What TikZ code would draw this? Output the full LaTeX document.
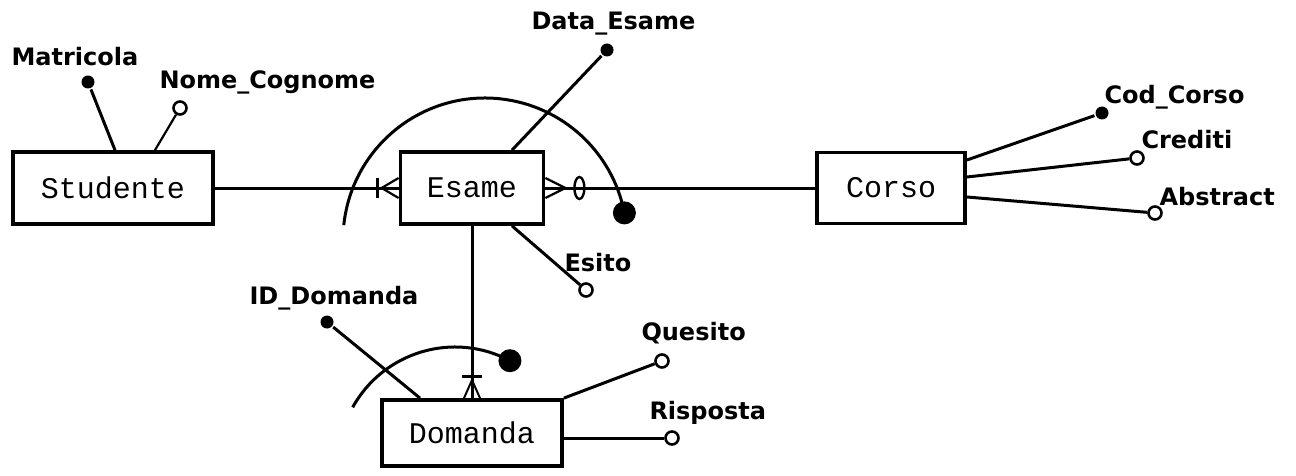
\documentclass[tikz,border=0pt]{standalone}
\usepackage{fontspec}
\setmainfont{DejaVu Sans}
\setmonofont{Liberation Mono}
\usepackage{tikz}
\usetikzlibrary{shapes,backgrounds}
\tikzset{
  ent/.style={ draw, rectangle, line width=1.9pt, inner sep=0pt, font=\fontsize{15}{17}\selectfont\ttfamily }
}
\tikzset{
  keyattr/.style={ circle, fill=black, inner sep=0pt, minimum size=6.5pt }
}
\tikzset{
  optattr/.style={ draw, circle, fill=white, line width=1.3pt, inner sep=0pt, minimum size=6.5pt }
}
\tikzset{
  attrname/.style={ anchor=west, inner sep=0pt, font=\fontsize{12}{14}\selectfont\bfseries }
}
\tikzset{
  bigdot/.style={ circle, fill=black, inner sep=0pt, minimum size=11.5pt }
}

\begin{document}
\begin{tikzpicture}[x=0.5pt, y=-0.5pt, line width=1.5pt]
      \useasboundingbox (0,0) rectangle (1296,476);

      % entities
      \node[ent, minimum width=100pt, minimum height=36pt] (stud) at (113,188) {Studente};
      \node[ent, minimum width=71.5pt, minimum height=36pt] (esame) at (472,188) {Esame};
      \node[ent, minimum width=74pt, minimum height=35.5pt] (corso) at (891,188) {Corso};
      \node[ent, minimum width=90pt, minimum height=33pt] (dom) at (472,433) {Domanda};

      % relationships
      \draw (stud) -- (esame);
      \draw (esame) -- (corso);
      \draw (esame) -- (dom);

      % crow's feet
      \draw ([xshift=-10.5pt,yshift=5pt]esame.west) -- ([xshift=-10.5pt,yshift=-5pt]esame.west);
      \draw[line width=1.1pt] ([yshift=5pt]esame.west) -- ([xshift=-8.5pt]esame.west) -- ([yshift=-5pt]esame.west);
      \draw[line width=1.1pt] ([yshift=5pt]esame.east) -- ([xshift=10pt]esame.east) -- ([yshift=-5pt]esame.east);
      \draw[line width=1.2pt] ([xshift=17pt]esame.east) ellipse [x radius=2.5pt, y radius=5.5pt];
      \draw ([xshift=-5pt,yshift=11pt]dom.north) -- ([xshift=5pt,yshift=11pt]dom.north);
      \draw[line width=1pt] ([xshift=-4pt]dom.north) -- ([yshift=9pt]dom.north) -- ([xshift=4pt]dom.north);

      % identifier arcs
      \draw (485,240) ++(186:142) arc[start angle=186, end angle=349, radius=142] node[bigdot] (esdot) {};
      \draw (455,464) ++(209:117) arc[start angle=209, end angle=298, radius=117] node[bigdot] (domdot) {};

      % attributes of Studente
      \node[keyattr] (matr) at (88,82) {};
      \node[attrname] (matrlbl) at (10,57) {Matricola};
      \draw (matr) -- ([xshift=1pt]stud.north);
      \node[optattr] (nome) at (180,108) {};
      \node[attrname] (nomelbl) at (158,82) {Nome\_Cognome};
      \draw[line width=1.1pt] (nome) -- ([xshift=21pt]stud.north);

      % attributes of Esame
      \node[keyattr] (data) at (607,50) {};
      \node[attrname] (datalbl) at (530,24) {Data\_Esame};
      \draw (data) -- ([xshift=20pt]esame.north);
      \node[optattr] (esito) at (586,290) {};
      \node[attrname] (esitolbl) at (563,263) {Esito};
      \draw (esito) -- ([xshift=20pt]esame.south);

      % attributes of Domanda
      \node[keyattr] (iddom) at (327,322) {};
      \node[attrname] (iddomlbl) at (248,298) {ID\_Domanda};
      \draw (iddom) -- ([xshift=-26pt]dom.north);
      \node[optattr] (ques) at (662,361) {};
      \node[attrname] (queslbl) at (640,333) {Quesito};
      \draw (ques) -- (dom.north east);
      \node[optattr] (risp) at (672,438) {};
      \node[attrname] (risplbl) at (648,413) {Risposta};
      \draw (risp) -- ([yshift=-2.5pt]dom.east);

      % attributes of Corso
      \node[keyattr] (cod) at (1102,113) {};
      \node[attrname] (codlbl) at (1103,97) {Cod\_Corso};
      \draw (cod) -- ([yshift=14pt]corso.east);
      \node[optattr] (cred) at (1137,158) {};
      \node[attrname] (credlbl) at (1140,140) {Crediti};
      \draw (cred) -- ([yshift=5.5pt]corso.east);
      \node[optattr] (abs) at (1155,213) {};
      \node[attrname] (abslbl) at (1158,197) {Abstract};
      \draw (abs) -- ([yshift=-4.5pt]corso.east);
    \end{tikzpicture}
\end{document}
